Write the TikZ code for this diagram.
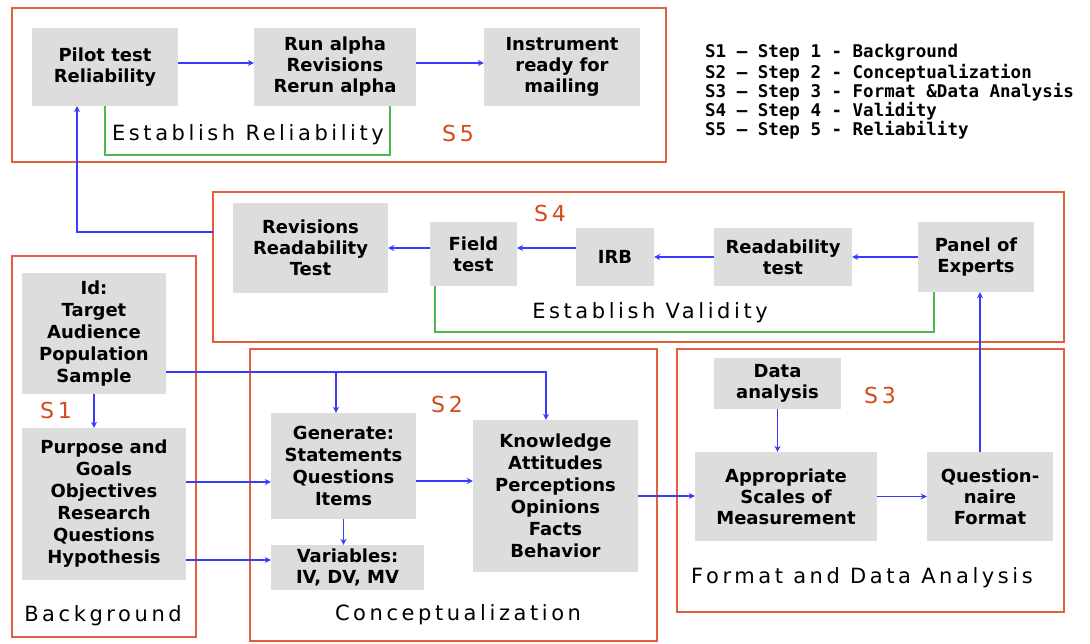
\documentclass[tikz,border=0pt]{standalone}
\usepackage{fontspec}
\setmainfont{DejaVu Sans}
\newfontfamily\titlefont[LetterSpace=17]{DejaVu Sans}
\newfontfamily\legendfont{DejaVu Sans Mono}
\usetikzlibrary{arrows.meta}
\definecolor{framec}{HTML}{E0603C}
\definecolor{boxc}{HTML}{DDDDDD}
\definecolor{arrc}{HTML}{3A3AFF}
\definecolor{grn}{HTML}{4DB84D}
\definecolor{redlab}{HTML}{D44A1A}
\tikzset{
 gbox/.style={fill=boxc, draw=none, align=center, inner sep=0pt, font=\fontsize{18}{21}\selectfont\bfseries},
 frame/.style={draw=framec, line width=2pt},
 arr/.style={draw=arrc, line width=1.6pt, -{Stealth[length=6pt,width=6pt]}},
 conn/.style={draw=arrc, line width=1.6pt},
 bracket/.style={draw=grn, line width=1.6pt},
 ftitle/.style={font=\titlefont\fontsize{21}{24}\selectfont, inner sep=0pt},
 slabel/.style={text=redlab, font=\titlefont\fontsize{22}{24}\selectfont, inner sep=0pt},
 legend/.style={anchor=west, font=\legendfont\bfseries\fontsize{17.5}{19.5}\selectfont, inner sep=0pt},
}
\begin{document}
\begin{tikzpicture}[x=1pt,y=-1pt]
\useasboundingbox[fill=white] (0,0) rectangle (1090,643);
% frames
\draw[frame] (12,8) rectangle (666,162);
\draw[frame] (213,192) rectangle (1064,342);
\draw[frame] (12,256) rectangle (196,637);
\draw[frame] (250,349) rectangle (657,641);
\draw[frame] (677,349) rectangle (1064,612);
% S5 boxes
\node[gbox, minimum width=146pt, minimum height=78pt] (pilot) at (105,67) {Pilot test\\Reliability};
\node[gbox, minimum width=162pt, minimum height=78pt] (runalpha) at (335,67) {Run alpha\\Revisions\\Rerun alpha};
\node[gbox, minimum width=156pt, minimum height=78pt] (instr) at (562,67) {Instrument\\ready for\\mailing};
% S4 boxes
\node[gbox, minimum width=155pt, minimum height=90pt] (revis) at (310.5,248) {Revisions\\Readability\\Test};
\node[gbox, minimum width=87pt, minimum height=64pt] (field) at (473.5,254) {Field\\test};
\node[gbox, minimum width=78pt, minimum height=58pt] (irb) at (615,257) {IRB};
\node[gbox, minimum width=138pt, minimum height=58pt] (readt) at (783,257) {Readability\\test};
\node[gbox, minimum width=116pt, minimum height=70pt] (panel) at (976,257) {Panel of\\Experts};
% S1 boxes
\node[gbox, minimum width=144pt, minimum height=121pt, font=\fontsize{18}{22}\selectfont\bfseries] (id) at (94,333.5) {Id:\\Target\\Audience\\Population\\Sample};
\node[gbox, minimum width=164pt, minimum height=152pt, font=\fontsize{18}{22}\selectfont\bfseries] (purpose) at (104,504) {Purpose and\\Goals\\Objectives\\Research\\Questions\\Hypothesis};
% S2 boxes
\node[gbox, minimum width=145pt, minimum height=106pt, font=\fontsize{18}{22}\selectfont\bfseries] (generate) at (343.5,466) {Generate:\\Statements\\Questions\\Items};
\node[gbox, minimum width=165pt, minimum height=152pt, font=\fontsize{18}{22}\selectfont\bfseries] (knowledge) at (555.5,496) {Knowledge\\Attitudes\\Perceptions\\Opinions\\Facts\\Behavior};
\node[gbox, minimum width=153pt, minimum height=45pt] (variables) at (347.5,567.5) {Variables:\\IV, DV, MV};
% S3 boxes
\node[gbox, minimum width=127pt, minimum height=51pt] (data) at (777.5,383.5) {Data\\analysis};
\node[gbox, minimum width=182pt, minimum height=89pt] (approp) at (786,496.5) {Appropriate\\Scales of\\Measurement};
\node[gbox, minimum width=126pt, minimum height=89pt] (quest) at (990,496.5) {Question-\\naire\\Format};
% frame titles
\node[ftitle] (t5) at (248,135) {Establish Reliability};
\node[ftitle] (t4) at (650,313) {Establish Validity};
\node[ftitle] (t1) at (103,616) {Background};
\node[ftitle] (t2) at (458,615) {Conceptualization};
\node[ftitle] (t3) at (862,578) {Format and Data Analysis};
% step labels
\node[slabel] (s5) at (458,133) {S5};
\node[slabel] (s4) at (550,213) {S4};
\node[slabel] (s1) at (56,410) {S1};
\node[slabel] (s2) at (447,404) {S2};
\node[slabel] (s3) at (880,395) {S3};
% legend
\node[legend] (l1) at (705,53) {S1 – Step 1 - Background};
\node[legend] (l2) at (705,73) {S2 – Step 2 - Conceptualization};
\node[legend] (l3) at (705,92) {S3 – Step 3 - Format \&Data Analysis};
\node[legend] (l4) at (705,111) {S4 – Step 4 - Validity};
\node[legend] (l5) at (705,130) {S5 – Step 5 - Reliability};
% green brackets
\draw[bracket] (pilot.south) -- ++(0,49) -| ([xshift=55pt]runalpha.south);
\draw[bracket] ([xshift=-38.5pt]field.south) -- ++(0,46) -| ([xshift=-42pt]panel.south);
% S5 arrows
\draw[arr] ([yshift=4pt]pilot.east) -- ([yshift=4pt]runalpha.west);
\draw[arr] ([yshift=4pt]runalpha.east) -- ([yshift=4pt]instr.west);
% S4 -> pilot
\coordinate (s4w) at (213,232);
\draw[arr] (s4w) -| ([xshift=-28pt]pilot.south);
% S4 arrows
\draw[arr] (panel.west) -- (readt.east);
\draw[arr] (readt.west) -- (irb.east);
\coordinate (a1) at ([yshift=9pt]irb.west);
\draw[arr] (a1) -- (a1 -| field.east);
\coordinate (a2) at ([yshift=6pt]field.west);
\draw[arr] (a2) -- (a2 -| revis.east);
% S1 arrows
\draw[arr] (id.south) -- (id.south |- purpose.north);
\coordinate (idr) at ([yshift=-38.5pt]id.east);
\draw[arr] (idr) -| ([xshift=-9.5pt]knowledge.north);
\coordinate (gtop) at ([xshift=-7.5pt]generate.north);
\draw[arr] (gtop |- idr) -- (gtop);
\coordinate (g1) at ([yshift=-16pt]generate.west);
\draw[arr] (purpose.east |- g1) -- (g1);
\coordinate (v1) at ([yshift=7.5pt]variables.west);
\draw[arr] (purpose.east |- v1) -- (v1);
% S2 arrows
\coordinate (g2) at ([yshift=-15pt]generate.east);
\draw[arr] (g2) -- (g2 -| knowledge.west);
\draw[arr] (generate.south) -- (generate.south |- variables.north);
\draw[arr] (knowledge.east) -- (knowledge.east -| approp.west);
% S3 arrows
\draw[arr] (data.south) -- (data.south |- approp.north);
\draw[arr] (approp.east) -- (quest.west);
\coordinate (q1) at ([xshift=-10pt]quest.north);
\draw[arr] (q1) -- (q1 |- panel.south);
\end{tikzpicture}
\end{document}
